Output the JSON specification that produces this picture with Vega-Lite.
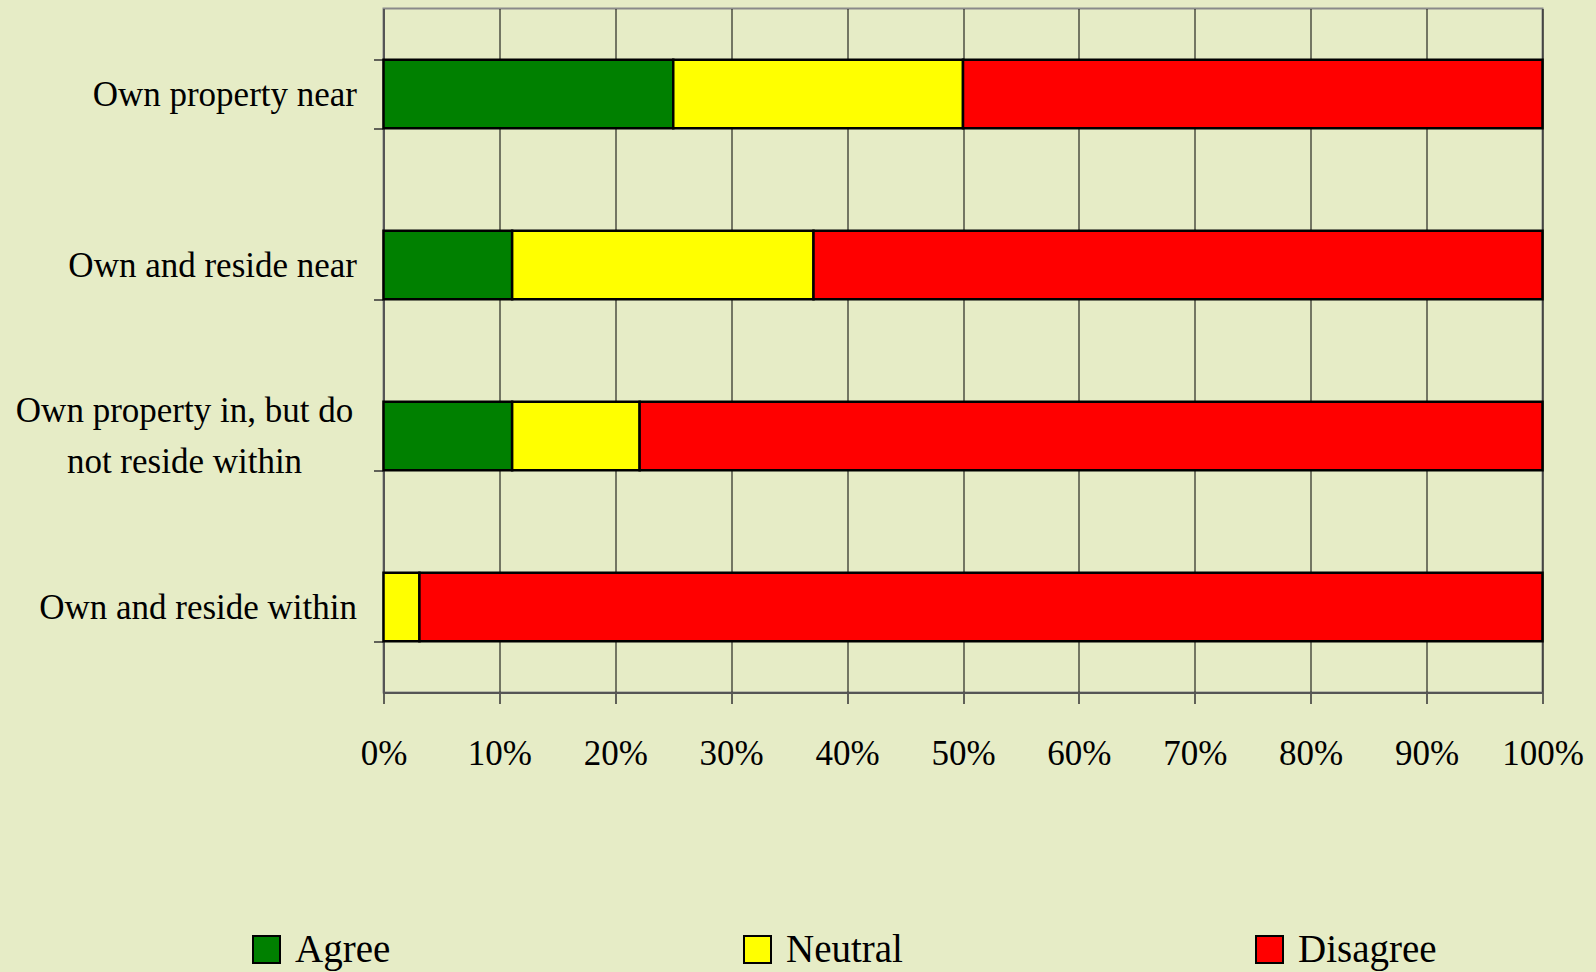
{
  "$schema": "https://vega.github.io/schema/vega-lite/v6.json",
  "width": 1159,
  "height": 684,
  "autosize": {"type": "none"},
  "padding": {"left": 383.5, "top": 8.5, "right": 53.5, "bottom": 279.5},
  "background": "#E6ECC6",
  "config": {
    "font": "Liberation Serif",
    "view": {"stroke": "#8a8a8a", "strokeWidth": 2}
  },
  "data": {
    "values": [
      {"group": "Own property near", "response": "Agree", "pct": 25},
      {"group": "Own property near", "response": "Neutral", "pct": 25},
      {"group": "Own property near", "response": "Disagree", "pct": 50},
      {"group": "Own and reside near", "response": "Agree", "pct": 11.1},
      {"group": "Own and reside near", "response": "Neutral", "pct": 26},
      {"group": "Own and reside near", "response": "Disagree", "pct": 62.9},
      {"group": "Own property in, but do not reside within", "response": "Agree", "pct": 11.1},
      {"group": "Own property in, but do not reside within", "response": "Neutral", "pct": 11},
      {"group": "Own property in, but do not reside within", "response": "Disagree", "pct": 77.9},
      {"group": "Own and reside within", "response": "Neutral", "pct": 3.1},
      {"group": "Own and reside within", "response": "Disagree", "pct": 96.9}
    ]
  },
  "transform": [
    {"calculate": "indexof(['Agree', 'Neutral', 'Disagree'], datum.response)", "as": "ord"}
  ],
  "mark": {"type": "bar", "stroke": "black", "strokeWidth": 2.5},
  "encoding": {
    "y": {
      "field": "group",
      "type": "nominal",
      "sort": ["Own property near", "Own and reside near", "Own property in, but do not reside within", "Own and reside within"],
      "title": null,
      "scale": {"paddingInner": 0.6, "paddingOuter": 0.3},
      "axis": {
        "grid": false,
        "tickBand": "extent",
        "tickSize": 10,
        "tickColor": "#333333",
        "tickWidth": 1.5,
        "domainColor": "#555555",
        "domainWidth": 2,
        "labelFontSize": 35,
        "labelColor": "black",
        "labelLimit": 0,
        "labelLineHeight": 51,
        "labelExpr": "datum.value == 'Own property in, but do not reside within' ? ['Own property in, but do', 'not reside within'] : datum.value",
        "labelAlign": {"condition": {"test": "datum.value == 'Own property in, but do not reside within'", "value": "center"}, "value": "right"},
        "labelPadding": {"condition": {"test": "datum.value == 'Own property in, but do not reside within'", "value": 189.5}, "value": 17},
        "labelOffset": {"condition": {"test": "datum.value == 'Own property in, but do not reside within'", "value": -26}, "value": 0}
      }
    },
    "x": {
      "field": "pct",
      "type": "quantitative",
      "stack": "normalize",
      "scale": {"domain": [0, 1]},
      "title": null,
      "axis": {
        "values": [0, 0.1, 0.2, 0.3, 0.4, 0.5, 0.6, 0.7, 0.8, 0.9, 1],
        "format": ".0%",
        "grid": true,
        "gridColor": "black",
        "gridWidth": 1,
        "gridOpacity": 1,
        "tickSize": 11,
        "tickColor": "#333333",
        "tickWidth": 1.5,
        "domainColor": "#555555",
        "domainWidth": 2,
        "labelFontSize": 35,
        "labelColor": "black",
        "labelPadding": 33,
        "labelFlush": false,
        "labelOverlap": false
      }
    },
    "order": {"field": "ord", "type": "quantitative"},
    "color": {
      "field": "response",
      "type": "nominal",
      "sort": ["Agree", "Neutral", "Disagree"],
      "scale": {"domain": ["Agree", "Neutral", "Disagree"], "range": ["#008000", "#FFFF00", "#FF0000"]},
      "legend": {
        "orient": "none",
        "legendX": -136.5,
        "legendY": 921.5,
        "direction": "horizontal",
        "columns": 3,
        "columnPadding": 347,
        "gridAlign": "none",
        "title": null,
        "padding": 0,
        "symbolType": "square",
        "symbolSize": 729,
        "symbolStrokeColor": "black",
        "symbolStrokeWidth": 2,
        "labelFontSize": 39,
        "labelColor": "black",
        "labelOffset": 9,
        "labelLimit": 0
      }
    }
  }
}
